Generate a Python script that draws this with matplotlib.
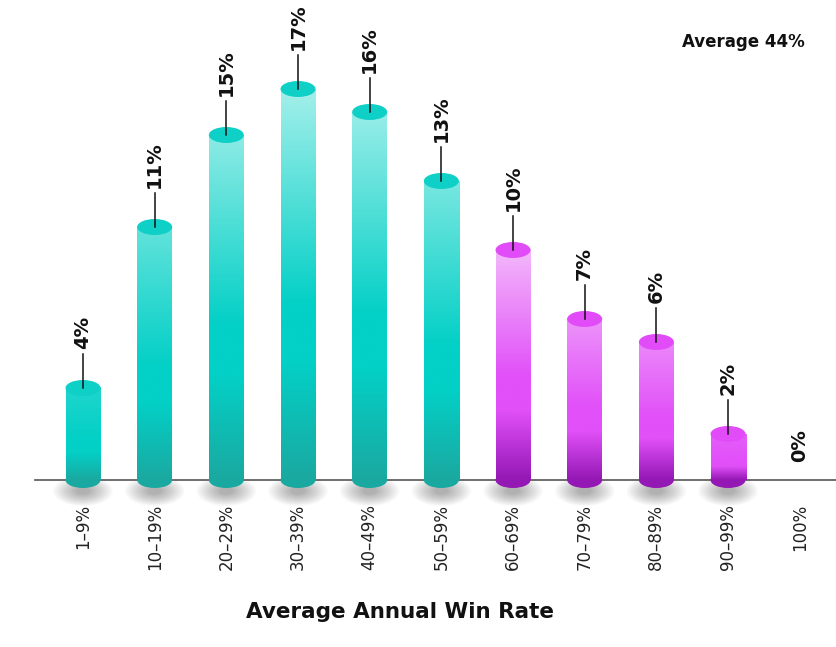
import matplotlib
matplotlib.use("Agg")
import matplotlib.pyplot as plt
import numpy as np
from matplotlib.colors import LinearSegmentedColormap, Normalize, to_rgb
from matplotlib.patches import Ellipse

########## Data

categories = ["1–9%", "10–19%", "20–29%", "30–39%", "40–49%", "50–59%",
              "60–69%", "70–79%", "80–89%", "90–99%", "100%"]
win_share = [4, 11, 15, 17, 16, 13, 10, 7, 6, 2, 0]
groups = ["teal"] * 6 + ["purple"] * 5
average_text = "Average 44%"
x_title = "Average Annual Win Rate"

########## Style

W, H = 837, 647
DPI = 100
px_per_x = 71.67       # pixels between bar centres
px_per_y = 23.0        # pixels per percent
y_max = 480 / px_per_y

# each bar: dark bottom -> saturated middle -> light top (lighter for taller bars)
palette = {
    "teal":   {"dark": "#1aa9a1", "mid": "#03d0c6", "light": "#a3efea", "cap": "#0fd0c7", "ref": 17},
    "purple": {"dark": "#9418b4", "mid": "#e150f8", "light": "#f3b8fb", "cap": "#e24cf8", "ref": 10},
}


def bar_cmap(g, v):
    p = palette[g]
    t = min(v / p["ref"], 1.0) ** 1.2
    mid = np.array(to_rgb(p["mid"]))
    light = mid + (np.array(to_rgb(p["light"])) - mid) * t
    return LinearSegmentedColormap.from_list(
        f"{g}{v}", [(0.0, p["dark"]), (0.3, p["mid"]), (0.45, p["mid"]), (1.0, tuple(light))])


fig = plt.figure(figsize=(W / DPI, H / DPI), dpi=DPI)
ax = fig.add_axes([35 / W, 1 - 480 / H, 1 - 35 / W, 480 / H])

x_left = -48 / px_per_x
ax.set_xlim(x_left, x_left + 802 / px_per_x)
ax.set_ylim(0, y_max)

bar_w = 35 / px_per_x
ell_h = 16 / px_per_y

for i, (v, g) in enumerate(zip(win_share, groups)):
    if v > 0:
        cmap = bar_cmap(g, v)
        # soft shadow under the bar
        for k in range(12):
            s = 1 - k * 0.07
            ax.add_patch(Ellipse((i, -11 / px_per_y), bar_w * 1.7 * s, (30 / px_per_y) * s,
                                 facecolor="#000000", edgecolor="none", alpha=0.028,
                                 zorder=1, clip_on=False))
        # bottom cap
        ax.add_patch(Ellipse((i, 0), bar_w, ell_h, facecolor=cmap(0.0),
                             edgecolor="none", zorder=3, clip_on=False))
        # body with vertical gradient
        grad = np.linspace(0, 1, 200).reshape(-1, 1)
        ax.imshow(grad, cmap=cmap, norm=Normalize(0, 1), origin="lower", aspect="auto",
                  extent=(i - bar_w / 2, i + bar_w / 2, 0, v), zorder=4, interpolation="bilinear")
        # top cap
        ax.add_patch(Ellipse((i, v), bar_w, ell_h, facecolor=palette[g]["cap"],
                             edgecolor="none", zorder=5))
        # leader line + label
        ax.plot([i, i], [v, v + 34 / px_per_y], color="#111111", lw=1.1, zorder=6)
        ax.annotate(f"{v}%", (i, v), xytext=(0, 39 * 0.72), textcoords="offset points",
                    rotation=90, ha="center", va="bottom", fontsize=14,
                    fontweight="bold", color="#111111", zorder=7)
    else:
        ax.annotate(f"{v}%", (i, 0), xytext=(0, 18 * 0.72), textcoords="offset points",
                    rotation=90, ha="center", va="bottom", fontsize=14,
                    fontweight="bold", color="#111111", zorder=7)

ax.set_xticks(range(len(categories)))
ax.set_xticklabels(categories, rotation=90, fontsize=12, color="#222222", va="top")
ax.tick_params(axis="x", length=0, pad=17)
ax.set_yticks([])
for side in ["top", "left", "right"]:
    ax.spines[side].set_visible(False)
ax.spines["bottom"].set_color("#555555")
ax.spines["bottom"].set_linewidth(1.2)
ax.spines["bottom"].set_zorder(2)
ax.patch.set_alpha(0)

fig.text(743 / W, 1 - 42 / H, average_text, ha="center", va="center",
         fontsize=12, fontweight="bold", color="#111111")
fig.text(400 / W, 1 - 612 / H, x_title, ha="center", va="center",
         fontsize=15.5, fontweight="bold", color="#111111")

fig.savefig("out.png", dpi=DPI, facecolor="white")
